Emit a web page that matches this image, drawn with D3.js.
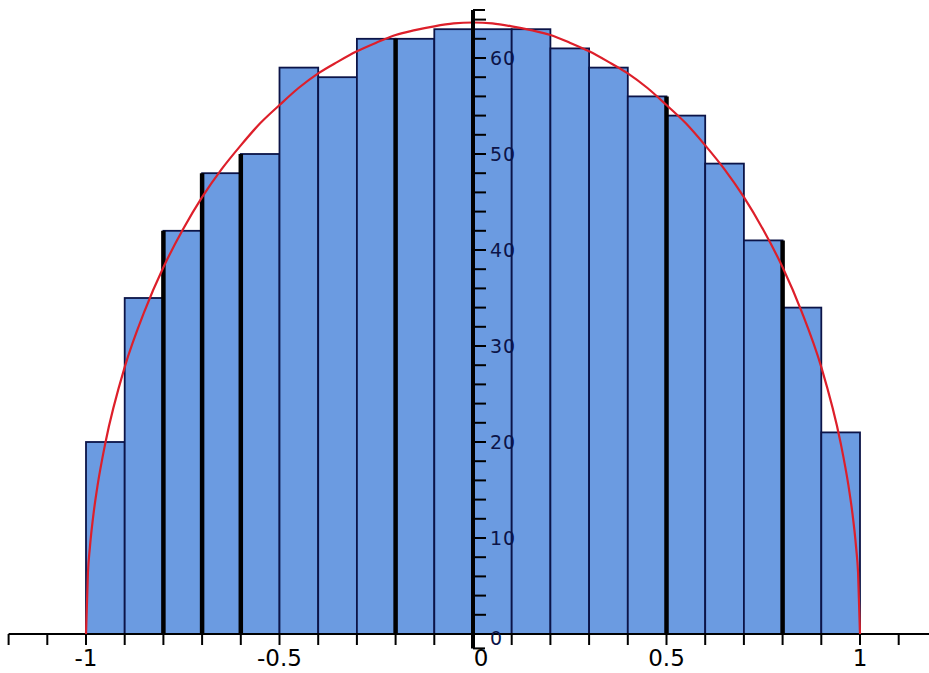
<!DOCTYPE html>
<html>
<head>
<meta charset="utf-8">
<script src="https://cdn.jsdelivr.net/npm/d3@7"></script>
<style>
  html, body { margin: 0; padding: 0; background: #ffffff; }
  svg { display: block; }
</style>
</head>
<body>
<svg id="chart" width="929" height="673"></svg>
<script>
// ---- data ----
const binStarts = [-1.0,-0.9,-0.8,-0.7,-0.6,-0.5,-0.4,-0.3,-0.2,-0.1,0.0,0.1,0.2,0.3,0.4,0.5,0.6,0.7,0.8,0.9];
const binWidth = 0.1;
const counts = [20,35,42,48,50,59,58,62,62,63,63,63,61,59,56,54,49,41,34,21];
const heavyEdges = [-0.8,-0.7,-0.6,-0.2,0.5,0.8];
const curveX = [-1.0,-0.995,-0.99,-0.98,-0.97,-0.95,-0.9,-0.85,-0.8,-0.75,-0.7,-0.65,-0.6,-0.55,-0.5,-0.45,-0.4,-0.35,-0.3,-0.25,-0.2,-0.15,-0.1,-0.05,0.0,
                0.05,0.1,0.15,0.2,0.25,0.3,0.35,0.4,0.45,0.5,0.55,0.6,0.65,0.7,0.75,0.8,0.85,0.9,0.95,0.97,0.98,0.99,0.995,1.0];
const curveY = [0,6.4,9.0,12.7,15.5,19.9,27.8,33.5,38.2,42.1,45.5,48.4,50.9,53.2,55.1,56.9,58.4,59.6,60.7,61.6,62.4,62.9,63.3,63.6,63.7,
                63.6,63.3,62.9,62.4,61.6,60.7,59.6,58.4,56.9,55.1,53.2,50.9,48.4,45.5,42.1,38.2,33.5,27.8,19.9,15.5,12.7,9.0,6.4,0];
const xTickValues = [-1.2,-1.1,-1.0,-0.9,-0.8,-0.7,-0.6,-0.5,-0.4,-0.3,-0.2,-0.1,0.0,0.1,0.2,0.3,0.4,0.5,0.6,0.7,0.8,0.9,1.0,1.1,1.2];
const xLabelValues = [-1,-0.5,0,0.5,1];
const xLabelText = ["-1","-0.5","0","0.5","1"];
const yTickValues = [0,2,4,6,8,10,12,14,16,18,20,22,24,26,28,30,32,34,36,38,40,42,44,46,48,50,52,54,56,58,60,62,64];
const yLabelValues = [0,10,20,30,40,50,60];

// ---- scales ----
const svg = d3.select("#chart");
const x = d3.scaleLinear().domain([-1, 1]).range([86, 860]);
const y = d3.scaleLinear().domain([0, 60]).range([634, 58]);
const x0 = x(0), y0 = y(0);

// ---- bars ----
svg.append("g").selectAll("rect").data(binStarts).join("rect")
  .attr("x", (d) => x(d))
  .attr("y", (d, i) => y(counts[i]))
  .attr("width", (d) => x(d + binWidth) - x(d))
  .attr("height", (d, i) => y0 - y(counts[i]))
  .attr("fill", "#6b9be1")
  .attr("stroke", "#0c1448")
  .attr("stroke-width", 1.8);

// heavy edges
svg.append("g").selectAll("line").data(heavyEdges).join("line")
  .attr("x1", (d) => x(d)).attr("x2", (d) => x(d))
  .attr("y1", (d) => {
    const i = binStarts.findIndex((b) => Math.abs(b - d) < 1e-9);
    return y(Math.max(counts[i], counts[i - 1]));
  })
  .attr("y2", y0)
  .attr("stroke", "#000")
  .attr("stroke-width", 4.5);

// ---- x axis ----
const gx = svg.append("g");
gx.append("line")
  .attr("x1", x(-1.2)).attr("x2", 929)
  .attr("y1", y0).attr("y2", y0)
  .attr("stroke", "#000").attr("stroke-width", 2);
gx.selectAll("line.tick").data(xTickValues).join("line")
  .attr("class", "tick")
  .attr("x1", (d) => x(d)).attr("x2", (d) => x(d))
  .attr("y1", y0).attr("y2", y0 + 11)
  .attr("stroke", "#000").attr("stroke-width", 2);
gx.selectAll("text").data(xLabelValues).join("text")
  .attr("x", (d) => x(d) + (d === 0 ? 8 : 0))
  .attr("y", 666)
  .attr("text-anchor", "middle")
  .attr("font-family", "DejaVu Sans, sans-serif")
  .attr("font-size", 23)
  .attr("fill", "#000")
  .text((d, i) => xLabelText[i]);

// ---- red curve ----
const line = d3.line().x((d) => x(d)).y((d, i) => y(curveY[i])).curve(d3.curveMonotoneX);
svg.append("path")
  .datum(curveX)
  .attr("d", line)
  .attr("fill", "none")
  .attr("stroke", "#dd1f2a")
  .attr("stroke-width", 2.2);

// ---- y axis ----
const gy = svg.append("g");
gy.append("line")
  .attr("x1", x0).attr("x2", x0)
  .attr("y1", y(-1.5)).attr("y2", y(65))
  .attr("stroke", "#000").attr("stroke-width", 4);
gy.selectAll("line.tick").data(yTickValues).join("line")
  .attr("class", "tick")
  .attr("x1", x0).attr("x2", x0 + 13)
  .attr("y1", (d) => y(d)).attr("y2", (d) => y(d))
  .attr("stroke", "#000").attr("stroke-width", 2);
gy.selectAll("line.end").data([-1.5, 65]).join("line")
  .attr("class", "end")
  .attr("x1", x0).attr("x2", x0 + 12)
  .attr("y1", (d) => y(d)).attr("y2", (d) => y(d))
  .attr("stroke", "#000").attr("stroke-width", 2);
gy.selectAll("text").data(yLabelValues).join("text")
  .attr("x", x0 + 17)
  .attr("y", (d) => y(d) + (d === 0 ? 4 : 0))
  .attr("dy", "0.36em")
  .attr("font-family", "DejaVu Sans, sans-serif")
  .attr("font-size", 19)
  .attr("letter-spacing", 1)
  .attr("fill", "#0c1448")
  .text((d) => d);
</script>
</body>
</html>
